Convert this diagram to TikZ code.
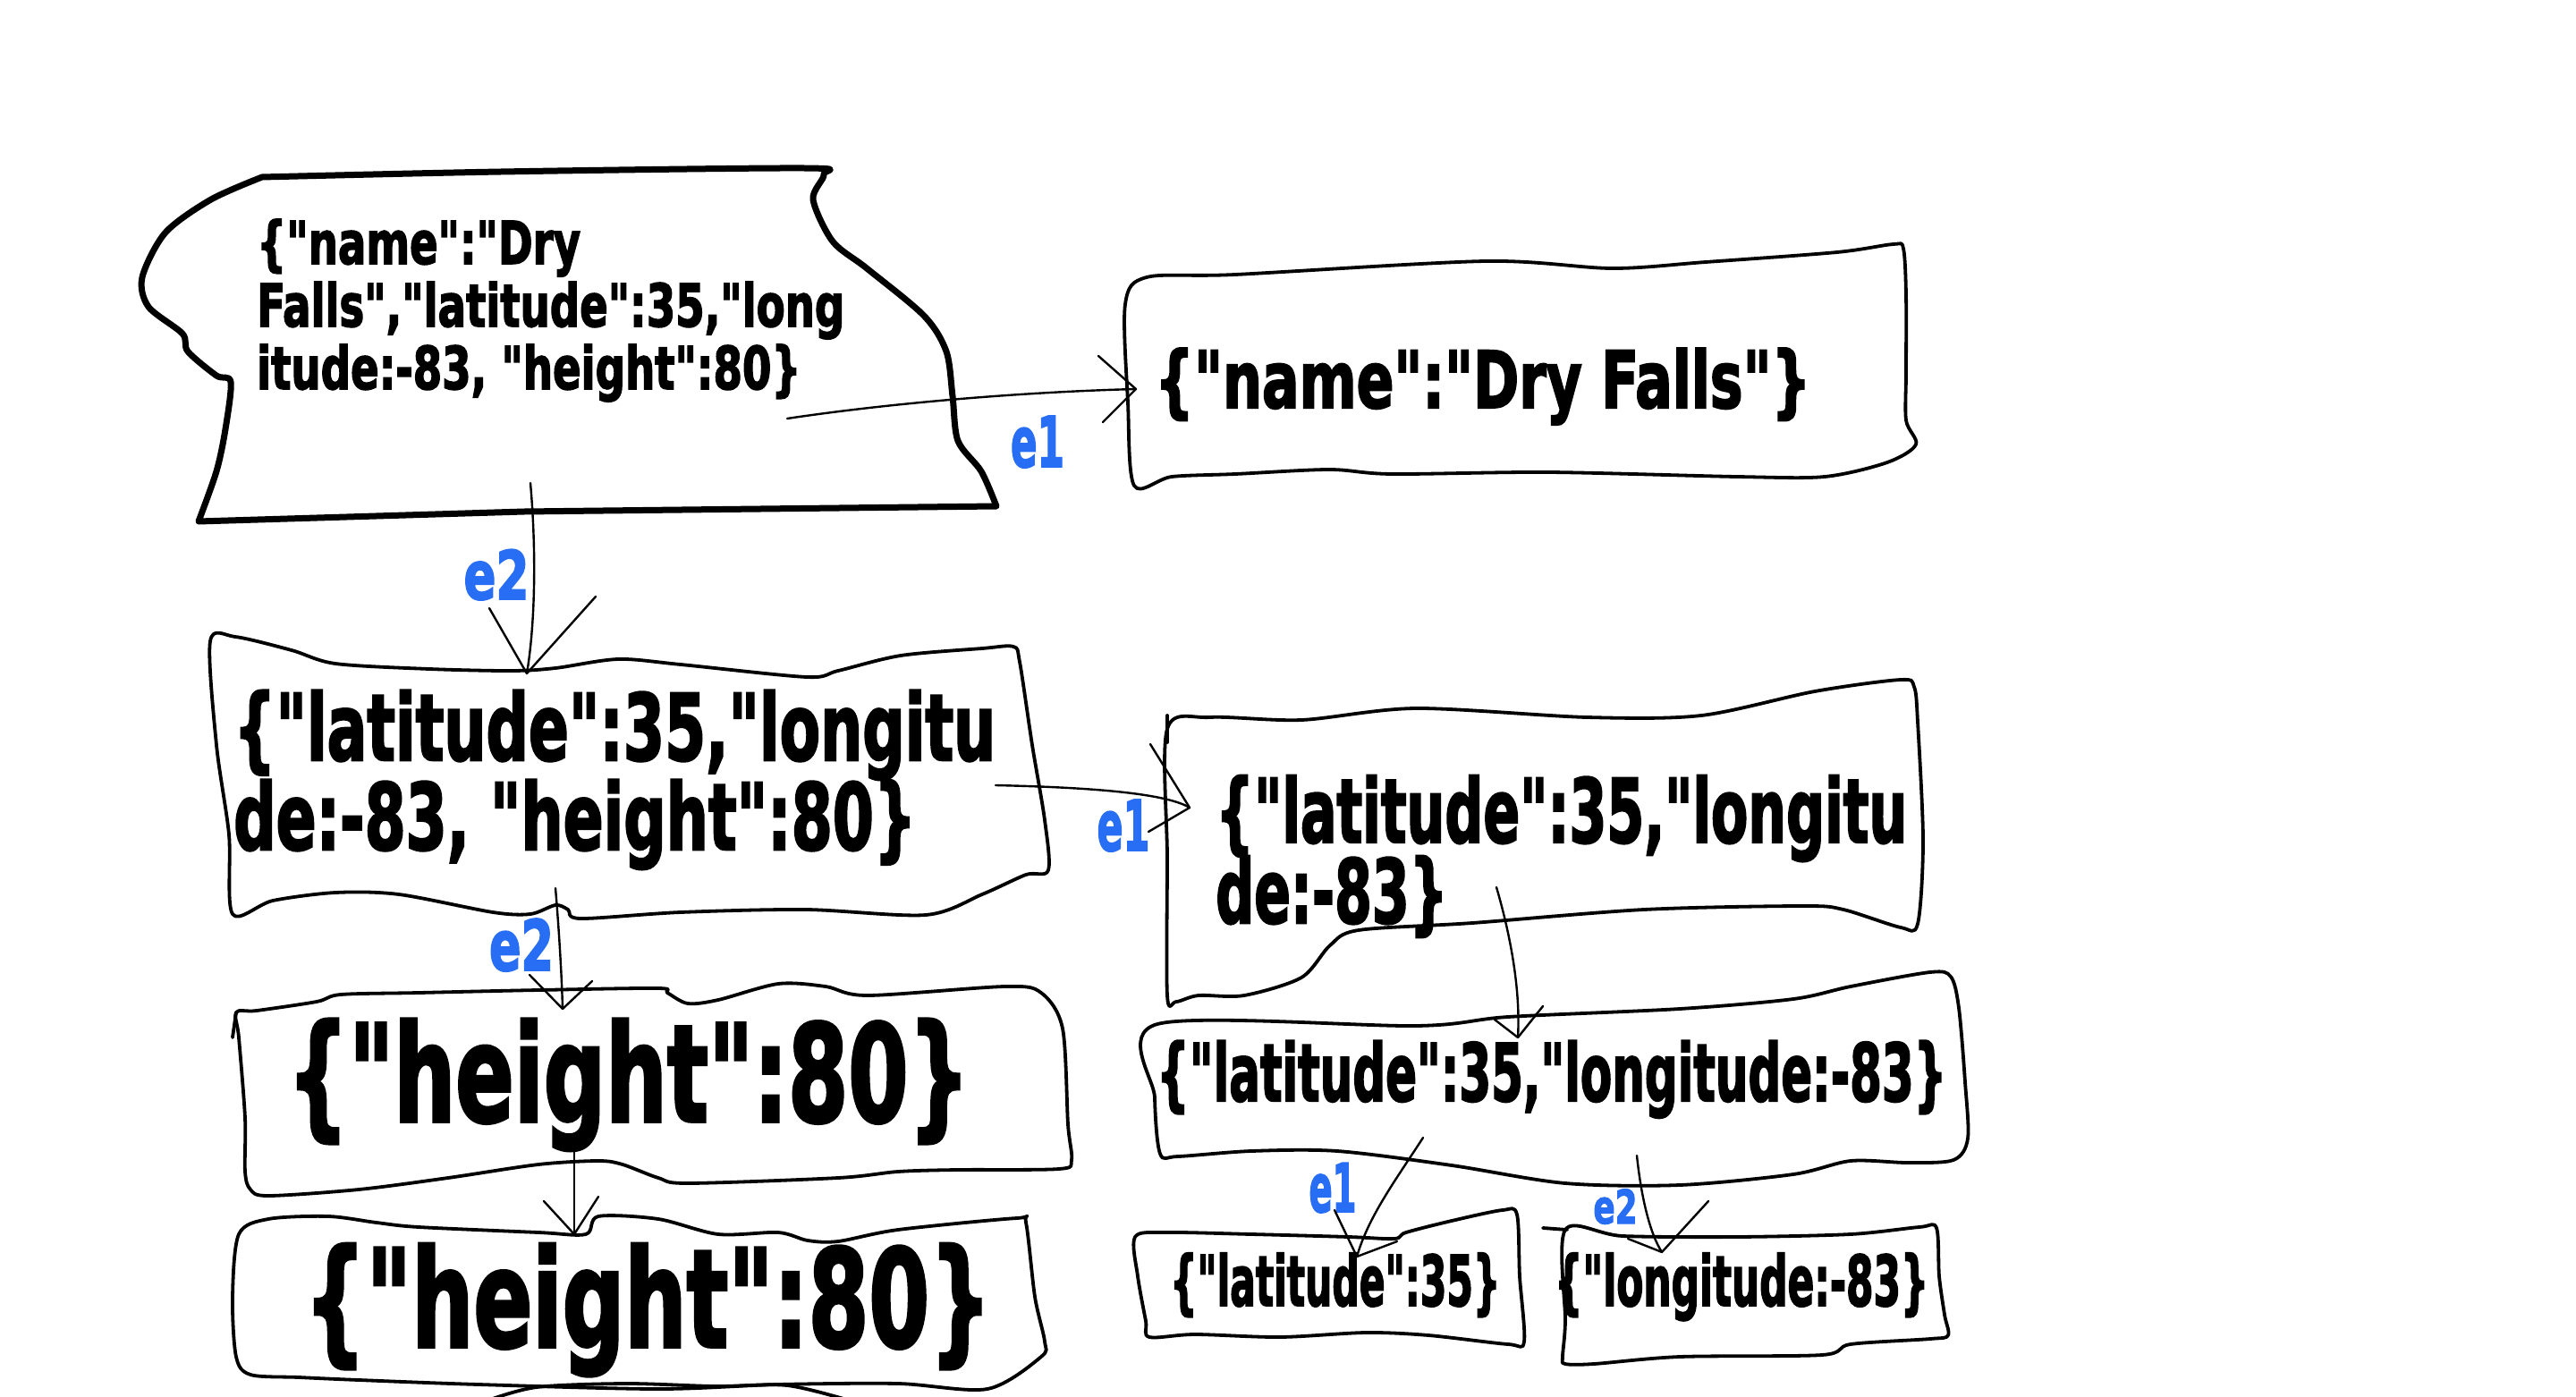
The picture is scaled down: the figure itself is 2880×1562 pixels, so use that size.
\documentclass[tikz,border=0pt]{standalone}
\usepackage{fontspec}
\usepackage{graphicx}
\newfontfamily\hand{DejaVu Sans Condensed}[BoldFeatures={FakeBold=2.5}]
\definecolor{eblue}{RGB}{40,110,245}
\newcommand{\jtext}[3]{\resizebox{#1}{\height}{\vbox{\baselineskip=#2\relax\lineskiplimit=-\maxdimen\halign{##\hfil\cr#3\crcr}}}}
\newcommand{\fs}[1]{\hand\bfseries\fontsize{#1}{#1}\selectfont}
\tikzset{
  box/.style={line width=3.8pt, line join=round, line cap=round},
  bigbox/.style={line width=7pt, line join=round, line cap=round},
  conn/.style={line width=2.4pt, line cap=round, line join=round},
  jnode/.style={inner sep=0pt, anchor=base west},
  elab/.style={inner sep=0pt, anchor=base, text=eblue},
}
\begin{document}
\begin{tikzpicture}[x=1pt,y=-1pt]
\useasboundingbox (0,0) rectangle (2880,1562);
\fill[white] (0,0) rectangle (2880,1562);

% ---------- box outlines ----------
\draw[bigbox] plot[smooth, tension=0.5] coordinates {(293,198) (560,192) (899,188) (921,195) (909,223) (931,270) (969,300) (1033,353) (1058,393) (1065,443) (1071,493) (1097,527) (1114,566)}
  -- (586,572) -- plot[smooth, tension=0.5] coordinates {(222,583) (242,527) (252,480) (258,427) (242,420) (210,393) (204,373) (166,343) (159,310) (185,260) (236,223) (293,198)} -- cycle;

\draw[box] plot[smooth cycle, tension=0.5] coordinates {(1258,340) (1282,310) (1381,307) (1661,292) (1802,300) (1907,293) (2054,282) (2117,273) (2128,278) (2131,330) (2131,417) (2131,470) (2142,497) (2110,517) (2040,533) (1942,533) (1731,528) (1556,530) (1486,525) (1381,530) (1310,533) (1268,543) (1261,450)};

\draw[box] plot[smooth cycle, tension=0.5] coordinates {(235,717) (263,712) (326,727) (375,742) (480,748) (572,750) (621,747) (691,737) (761,743) (902,757) (937,750) (1007,733) (1098,725) (1133,723) (1140,740) (1154,833) (1168,917) (1172,973) (1147,978) (1098,1000) (1035,1023) (901,1017) (761,1020) (649,1027) (635,1017) (621,1012) (593,1022) (551,1020) (446,1000) (375,998) (305,1007) (260,1022) (256,933) (242,833)};

\draw[box] plot[smooth cycle, tension=0.5] coordinates {(1305,815) (1353,802) (1455,805) (1583,792) (1774,802) (1902,800) (2029,773) (2125,760) (2140,768) (2144,807) (2150,940) (2144,1033) (2125,1037) (2061,1017) (2016,1013) (1838,1017) (1646,1032) (1519,1040) (1487,1057) (1455,1093) (1391,1113) (1340,1113) (1315,1120) (1305,1113) (1305,960)};
\draw[box] (1305,800) -- (1305,830);

\draw[box] plot[smooth cycle, tension=0.5] coordinates {(1294,1145) (1584,1147) (1686,1137) (1878,1128) (2005,1117) (2069,1103) (2158,1087) (2181,1092) (2190,1127) (2197,1210) (2200,1273) (2184,1297) (2133,1300) (2069,1298) (2005,1313) (1878,1325) (1750,1323) (1623,1303) (1495,1287) (1399,1287) (1317,1293) (1297,1290) (1291,1227)};

\draw[box] plot[smooth cycle, tension=0.5] coordinates {(1269,1383) (1304,1378) (1399,1380) (1508,1383) (1559,1385) (1572,1378) (1623,1365) (1680,1353) (1696,1358) (1699,1427) (1704,1500) (1686,1503) (1597,1493) (1527,1490) (1431,1495) (1336,1492) (1285,1495) (1281,1477) (1272,1427)};

\draw[box] plot[smooth cycle, tension=0.5] coordinates {(1750,1375) (1814,1382) (1942,1383) (2069,1380) (2146,1372) (2165,1373) (2168,1427) (2174,1470) (2178,1493) (2158,1497) (2069,1503) (2037,1515) (1878,1517) (1782,1525) (1750,1525) (1747,1517) (1750,1477)};
\draw[box] (1725,1373) -- (1752,1375);

\draw[box] plot[smooth cycle, tension=0.5] coordinates {(264,1132) (287,1130) (354,1120) (381,1112) (468,1110) (602,1107) (736,1105) (746,1110) (769,1122) (803,1118) (870,1100) (923,1103) (970,1113) (1124,1103) (1164,1110) (1188,1150) (1194,1257) (1198,1297) (1184,1307) (1070,1308) (1004,1310) (937,1317) (769,1323) (736,1317) (696,1302) (669,1298) (602,1302) (501,1317) (401,1330) (300,1337) (280,1330) (274,1310) (274,1250) (267,1160)};
\draw[box] (264,1132) -- (260,1160);

\draw[box] plot[smooth cycle, tension=0.5] coordinates {(267,1380) (300,1363) (367,1360) (421,1367) (468,1372) (602,1378) (655,1380) (669,1360) (736,1363) (803,1380) (870,1378) (903,1387) (937,1388) (1004,1375) (1137,1362) (1147,1367) (1157,1450) (1168,1500) (1164,1517) (1104,1553) (1004,1547) (870,1548) (736,1553) (535,1548) (401,1543) (334,1540) (280,1537) (264,1517) (260,1450)};
\draw[box] plot[smooth, tension=0.5] coordinates {(545,1566) (600,1551) (700,1547) (800,1550) (880,1549) (950,1566)};

% ---------- texts ----------
\node[jnode] (t1) at (287,435) {\fs{66}\jtext{657pt}{70pt}{\{"name":"Dry\cr Falls","latitude":35,"long\cr itude:-83, "height":80\}}};
\node[jnode] (t2) at (1291,456) {\fs{88}\jtext{733pt}{90pt}{\{"name":"Dry Falls"\}}};
\node[jnode] (t3) at (261,950) {\fs{103}\jtext{852pt}{100pt}{\{"latitude":35,"longitu\cr de:-83, "height":80\}}};
\node[jnode] (t4) at (1359,1032) {\fs{99}\jtext{773pt}{90pt}{\{"latitude":35,"longitu\cr de:-83\}}};
\node[jnode] (t5) at (1293,1231) {\fs{89}\jtext{883pt}{90pt}{\{"latitude":35,"longitude:-83\}}};
\node[jnode] (t6) at (1308,1460) {\fs{78}\jtext{369pt}{80pt}{\{"latitude":35\}}};
\node[jnode] (t7) at (1738,1460) {\fs{78}\jtext{418pt}{80pt}{\{"longitude:-83\}}};
\node[jnode] (t8) at (321,1254) {\fs{151}\jtext{763pt}{150pt}{\{"height":80\}}};
\node[jnode] (t9) at (340,1506) {\fs{152}\jtext{768pt}{150pt}{\{"height":80\}}};

% ---------- edge labels ----------
\node[elab] (l1) at (1160,522) {\fs{78}\resizebox{60pt}{\height}{e1}};
\node[elab] (l2) at (555,670) {\fs{75}\resizebox{73pt}{\height}{e2}};
\node[elab] (l3) at (1256,951) {\fs{78}\resizebox{59pt}{\height}{e1}};
\node[elab] (l4) at (583,1085) {\fs{78}\resizebox{72pt}{\height}{e2}};
\node[elab] (l5) at (1490,1355) {\fs{75}\resizebox{53pt}{\height}{e1}};
\node[elab] (l6) at (1806,1368) {\fs{52}\resizebox{49pt}{\height}{e2}};

% ---------- connector end points ----------
\coordinate (a1s) at (880,468);   \coordinate (a1t) at (1270,435);
\coordinate (a1p) at (1228,398);  \coordinate (a1q) at (1233,472);
\coordinate (a2s) at (593,540);   \coordinate (a2t) at (589,753);
\coordinate (a2p) at (547,680);   \coordinate (a2q) at (666,667);
\coordinate (a3s) at (1113,878);  \coordinate (a3t) at (1330,903);
\coordinate (a3p) at (1286,832);  \coordinate (a3q) at (1284,930);
\coordinate (a4s) at (621,993);   \coordinate (a4t) at (629,1128);
\coordinate (a4p) at (592,1090);  \coordinate (a4q) at (662,1097);
\coordinate (a5s) at (642,1287);  \coordinate (a5t) at (642,1380);
\coordinate (a5p) at (608,1343);  \coordinate (a5q) at (669,1338);
\coordinate (a6s) at (1673,992);  \coordinate (a6t) at (1697,1160);
\coordinate (a6p) at (1671,1140); \coordinate (a6q) at (1725,1125);
\coordinate (a7s) at (1591,1272); \coordinate (a7t) at (1517,1405);
\coordinate (a7p) at (1492,1353); \coordinate (a7q) at (1562,1388);
\coordinate (a8s) at (1830,1292); \coordinate (a8t) at (1858,1400);
\coordinate (a8p) at (1820,1385); \coordinate (a8q) at (1910,1343);

% ---------- connectors ----------
\draw[conn] (a1s) .. controls (1000,450) and (1150,438) .. (a1t);
\draw[conn] (a1p) -- (a1t) -- (a1q);
\draw[conn] (a2s) .. controls (600,620) and (598,700) .. (a2t);
\draw[conn] (a2p) -- (a2t) -- (a2q);
\draw[conn] (a3s) .. controls (1200,880) and (1300,885) .. (a3t);
\draw[conn] (a3p) -- (a3t) -- (a3q);
\draw[conn] (a4s) .. controls (625,1040) and (628,1090) .. (a4t);
\draw[conn] (a4p) -- (a4t) -- (a4q);
\draw[conn] (a5s) -- (a5t);
\draw[conn] (a5p) -- (a5t) -- (a5q);
\draw[conn] (a6s) .. controls (1690,1050) and (1700,1110) .. (a6t);
\draw[conn] (a6p) -- (a6t) -- (a6q);
\draw[conn] (a7s) .. controls (1560,1320) and (1530,1360) .. (a7t);
\draw[conn] (a7p) -- (a7t) -- (a7q);
\draw[conn] (a8s) .. controls (1835,1340) and (1845,1380) .. (a8t);
\draw[conn] (a8p) -- (a8t) -- (a8q);
\end{tikzpicture}
\end{document}
